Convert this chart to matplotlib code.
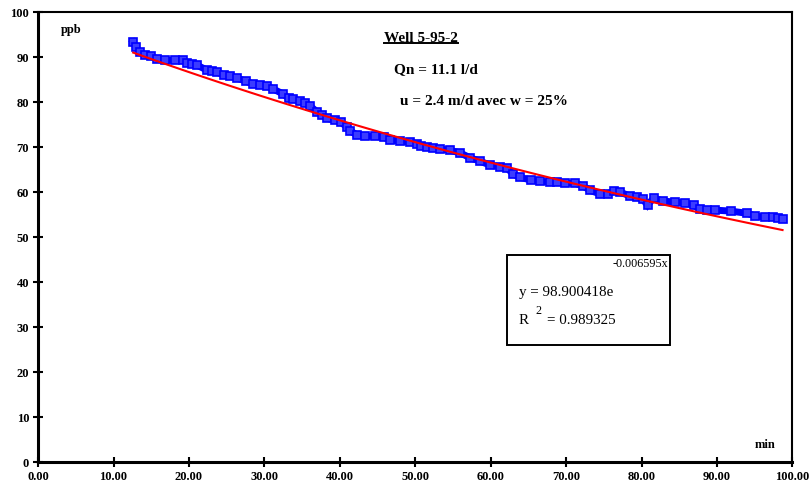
import numpy as np
import matplotlib.pyplot as plt
from matplotlib.lines import Line2D

plt.rcParams['font.family'] = ['Liberation Serif', 'DejaVu Serif']

# measured concentration (ppb) vs time (min)
time_min = [12.6, 13.0, 13.5, 14.2, 15.0, 15.8, 16.8, 18.2, 19.2, 19.8, 20.4, 21.1,
            22.4, 23.1, 23.7, 24.7, 25.5, 26.4, 27.5, 28.5, 29.4, 30.4, 31.2, 32.5,
            33.2, 33.8, 34.7, 35.4, 36.1, 37.0, 37.7, 38.3, 39.3, 40.1, 41.0, 41.4,
            42.3, 43.4, 44.7, 45.8, 46.7, 48.0, 49.3, 50.3, 50.7, 51.6, 52.4, 53.3,
            54.6, 56.0, 57.3, 58.6, 59.9, 61.3, 62.2, 63.0, 63.9, 65.3, 66.6, 67.9,
            68.8, 69.9, 71.2, 72.3, 73.2, 74.5, 75.5, 76.3, 77.2, 78.5, 79.4, 80.2,
            80.8, 81.6, 82.9, 84.5, 85.8, 86.9, 87.8, 88.7, 89.8, 91.8, 94.0, 95.1,
            96.4, 97.5, 98.1, 98.7]
conc_ppb = [93.3, 92.2, 91.1, 90.4, 90.2, 89.6, 89.3, 89.3, 89.3, 88.7, 88.4, 88.2,
            87.1, 86.9, 86.7, 86.0, 85.8, 85.3, 84.7, 84.0, 83.8, 83.6, 82.9, 81.8,
            80.9, 80.7, 80.2, 79.8, 79.1, 77.8, 77.1, 76.4, 76.0, 75.6, 74.4, 73.6,
            72.7, 72.4, 72.4, 72.2, 71.6, 71.3, 71.1, 70.7, 70.2, 70.0, 69.8, 69.6,
            69.3, 68.7, 67.6, 66.9, 66.0, 65.6, 65.3, 64.0, 63.3, 62.7, 62.4, 62.2,
            62.2, 62.0, 62.0, 61.3, 60.4, 59.6, 59.6, 60.2, 60.0, 59.1, 58.9, 58.4,
            57.1, 58.7, 58.0, 57.8, 57.6, 57.1, 56.2, 56.0, 56.0, 55.8, 55.3, 54.7,
            54.4, 54.4, 54.2, 54.0]

# exponential trendline as printed on the chart
fit_a = 98.900418
fit_b = -0.006595
r_squared = 0.989325

x_ticks = [0, 10, 20, 30, 40, 50, 60, 70, 80, 90, 100]
y_ticks = [0, 10, 20, 30, 40, 50, 60, 70, 80, 90, 100]

fig = plt.figure(figsize=(8.11, 4.86), dpi=100)
ax = fig.add_axes([0.047, 0.049, 0.93, 0.926])

ax.plot(time_min, conc_ppb, color='blue', linewidth=5, solid_joinstyle='miter',
        marker='s', markersize=5.5, markerfacecolor='#3c3cff', markeredgecolor='blue',
        markeredgewidth=1.2, zorder=2)

t = np.array(time_min)
trend = fit_a * np.exp(fit_b * t)
ax.plot(t, trend, color='red', linewidth=1.5, zorder=3)

ax.set_xlim(0, 100)
ax.set_ylim(0, 100)
ax.set_xticks(x_ticks)
ax.set_yticks(y_ticks)
ax.set_xticklabels([f'{v:.2f}' for v in x_ticks], fontsize=9, fontweight='bold')
ax.set_yticklabels([str(v) for v in y_ticks], fontsize=9, fontweight='bold')
ax.tick_params(direction='inout', length=7, width=1.5, pad=3)
for side in ['left', 'bottom']:
    ax.spines[side].set_linewidth(2.2)
for side in ['top', 'right']:
    ax.spines[side].set_linewidth(1.5)

ax.text(3.0, 96, 'ppb', fontsize=9, fontweight='bold', va='center')
ax.text(95.0, 3.8, 'min', fontsize=9, fontweight='bold', va='center')

title = ax.text(45.9, 94.2, 'Well 5-95-2', fontsize=11, fontweight='bold', va='center')
ax.text(47.2, 87.3, 'Qn = 11.1 l/d', fontsize=11, fontweight='bold', va='center')
ax.text(48.0, 80.2, 'u = 2.4 m/d avec w = 25%', fontsize=11, fontweight='bold', va='center')

# underline the title
fig.canvas.draw()
bb = title.get_window_extent().transformed(ax.transData.inverted())
ax.add_line(Line2D([bb.x0, bb.x1], [bb.y0 + 0.3, bb.y0 + 0.3], color='black', linewidth=1.4))

# equation box
ax.add_patch(plt.Rectangle((62.2, 26.0), 21.6, 20.0, fill=False, edgecolor='black',
                           linewidth=1.4, zorder=4))
ax.text(63.7, 37.6, f'y = {fit_a:.6f}e', fontsize=10.8, va='center')
ax.text(76.1, 44.0, f'{fit_b:.6f}x', fontsize=8.7, va='center')
ax.text(63.7, 31.4, 'R', fontsize=10.8, va='center')
ax.text(65.9, 33.6, '2', fontsize=8.7, va='center')
ax.text(67.5, 31.4, f'= {r_squared:.6f}', fontsize=10.8, va='center')

fig.savefig('out.png', dpi=100)
